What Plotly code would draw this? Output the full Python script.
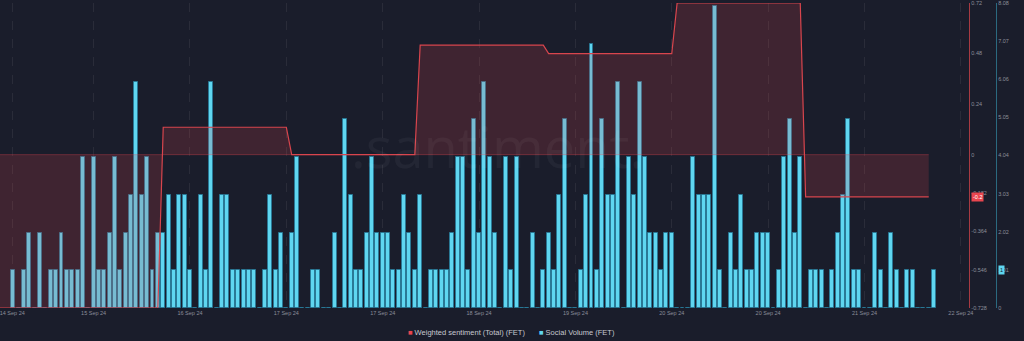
import plotly.graph_objects as go

# ---------------- data ----------------
hours = list(range(173))
social_volume = [
    1, 0, 1, 2, 0, 2, 0, 1, 1, 2, 1, 1, 1, 4, 0, 4, 1, 1, 2, 4,
    1, 2, 3, 6, 3, 4, 1, 2, 2, 3, 1, 3, 3, 1, 0, 3, 1, 6, 0, 3,
    3, 1, 1, 1, 1, 1, 0, 1, 3, 1, 2, 0, 2, 4, 0, 0, 1, 1, 0, 0,
    2, 0, 5, 3, 1, 1, 2, 4, 2, 2, 2, 1, 1, 3, 2, 1, 3, 0, 1, 1,
    1, 1, 2, 4, 4, 1, 5, 2, 6, 4, 2, 0, 4, 1, 4, 0, 0, 2, 0, 1,
    2, 1, 3, 5, 0, 0, 1, 3, 7, 1, 5, 3, 3, 6, 0, 4, 3, 6, 4, 2,
    2, 1, 2, 2, 0, 0, 0, 4, 3, 3, 3, 8, 1, 0, 2, 1, 3, 1, 1, 2,
    2, 2, 0, 1, 4, 5, 2, 4, 0, 1, 1, 1, 0, 1, 2, 3, 5, 1, 1, 0,
    0, 2, 1, 0, 2, 1, 0, 1, 1, 0, 0, 0, 1,
]
sentiment_days = [-0.728, 0.13, 0.0, 0.52, 0.48, 0.72, -0.2]
sent_hours = list(range(-3, 172))
sent_vals = [sentiment_days[max(0, (h - 4) // 24)] for h in sent_hours]

tick_hours = [-0.2, 15, 33, 51, 69, 87, 105, 123, 141, 159, 177]
tick_labels = ["14 Sep 24", "15 Sep 24", "16 Sep 24", "17 Sep 24", "17 Sep 24",
               "18 Sep 24", "19 Sep 24", "20 Sep 24", "20 Sep 24", "21 Sep 24", "22 Sep 24"]
sent_ticks = [0.72, 0.48, 0.24, 0, -0.182, -0.364, -0.546, -0.728]
vol_ticks = [0, 1.01, 2.02, 3.03, 4.04, 5.05, 6.06, 7.07, 8.08]
grid_ticks = [1.01, 3.03, 5.05, 7.07]

# ---------------- style ----------------
BG = "#1a1d2b"
CYAN = "#5fd6f0"
RED = "#e9464f"
TICK = "#8b8e9a"
FONT = "Liberation Sans, Arial, sans-serif"
W, H = 1024, 341
PLOT_R = 973
PLOT_T, PLOT_B = 2, 308

fig = go.Figure()
fig.add_trace(go.Bar(
    x=hours, y=social_volume, yaxis="y", width=0.74,
    marker=dict(color=CYAN, line=dict(color="rgba(40,120,150,0.9)", width=1)),
    showlegend=False, hoverinfo="skip",
))
fig.add_trace(go.Scatter(
    x=sent_hours, y=[0] * len(sent_hours), yaxis="y2", mode="lines",
    line=dict(color="rgba(233,70,79,0.35)", width=1),
    showlegend=False, hoverinfo="skip",
))
fig.add_trace(go.Scatter(
    x=sent_hours, y=sent_vals, yaxis="y2", mode="lines", fill="tonexty",
    fillcolor="rgba(233,70,79,0.18)", line=dict(color="#d8454d", width=1.2),
    showlegend=False, hoverinfo="skip",
))

tickfont = dict(family=FONT, size=5.5, color=TICK)
fig.update_layout(
    width=W, height=H, paper_bgcolor=BG, plot_bgcolor=BG,
    margin=dict(l=0, r=0, t=PLOT_T, b=H - PLOT_B),
    showlegend=False, bargap=0,
    xaxis=dict(
        domain=[0, PLOT_R / W], range=[-2.49, 178.56],
        tickmode="array", tickvals=tick_hours, ticktext=tick_labels,
        tickfont=tickfont, showgrid=True, griddash="dash",
        gridcolor="rgba(255,255,255,0.07)", gridwidth=1,
        zeroline=False, showline=False, ticks="", ticklabeloverflow="allow",
    ),
    yaxis=dict(
        range=[0, 8.08], side="right", anchor="free", position=1000 / W,
        tickmode="array", tickvals=vol_ticks, ticktext=[f"{v:g}" for v in vol_ticks],
        tickfont=tickfont, showgrid=False, zeroline=False, ticklabeloverflow="allow",
        showline=True, linecolor="#2b6a80", linewidth=1, ticks="",
    ),
    yaxis2=dict(
        range=[-0.728, 0.72], side="right", anchor="x", overlaying="y",
        tickmode="array", tickvals=sent_ticks, ticktext=[f"{v:g}" for v in sent_ticks],
        tickfont=tickfont, showgrid=False, zeroline=False, ticklabeloverflow="allow",
        showline=True, linecolor="#a83a42", linewidth=1, ticks="",
    ),
    yaxis3=dict(
        range=[0, 8.08], anchor="x", overlaying="y", side="left",
        tickmode="array", tickvals=grid_ticks, showticklabels=False,
        showgrid=True, griddash="dash", gridcolor="rgba(255,255,255,0.07)",
        zeroline=False, showline=False, ticks="",
    ),
)

ph = PLOT_B - PLOT_T
def py(v):
    return (PLOT_B - v) / ph

# watermark
fig.add_annotation(
    text=".santiment.", xref="paper", yref="paper", x=499 / W, y=py(145),
    showarrow=False, font=dict(family="Open Sans, sans-serif", size=56, color="rgba(255,255,255,0.045)"),
    xanchor="center", yanchor="middle",
)
# current value badges
fig.add_annotation(
    text=f"{sentiment_days[-1]:g}", xref="paper", yref="y2", x=975 / W, y=sentiment_days[-1],
    xanchor="left", yanchor="middle", showarrow=False, bgcolor=RED, borderpad=1,
    font=dict(family=FONT, size=5.5, color="#ffffff"),
)
fig.add_annotation(
    text=f"{social_volume[-1]}", xref="paper", yref="y", x=1001.5 / W, y=social_volume[-1],
    xanchor="left", yanchor="middle", showarrow=False, bgcolor=CYAN, borderpad=1,
    font=dict(family=FONT, size=5.5, color=BG),
)
# legend
legfont = dict(family=FONT, size=7.5, color="#c6c8d0")
fig.add_annotation(
    text=f'<span style="color:{RED}">■</span> Weighted sentiment (Total) (FET)',
    xref="paper", yref="paper", x=408 / W, y=py(333), xanchor="left", yanchor="middle",
    showarrow=False, font=legfont,
)
fig.add_annotation(
    text=f'<span style="color:{CYAN}">■</span> Social Volume (FET)',
    xref="paper", yref="paper", x=539.5 / W, y=py(333), xanchor="left", yanchor="middle",
    showarrow=False, font=legfont,
)

fig.write_html("out.html")
